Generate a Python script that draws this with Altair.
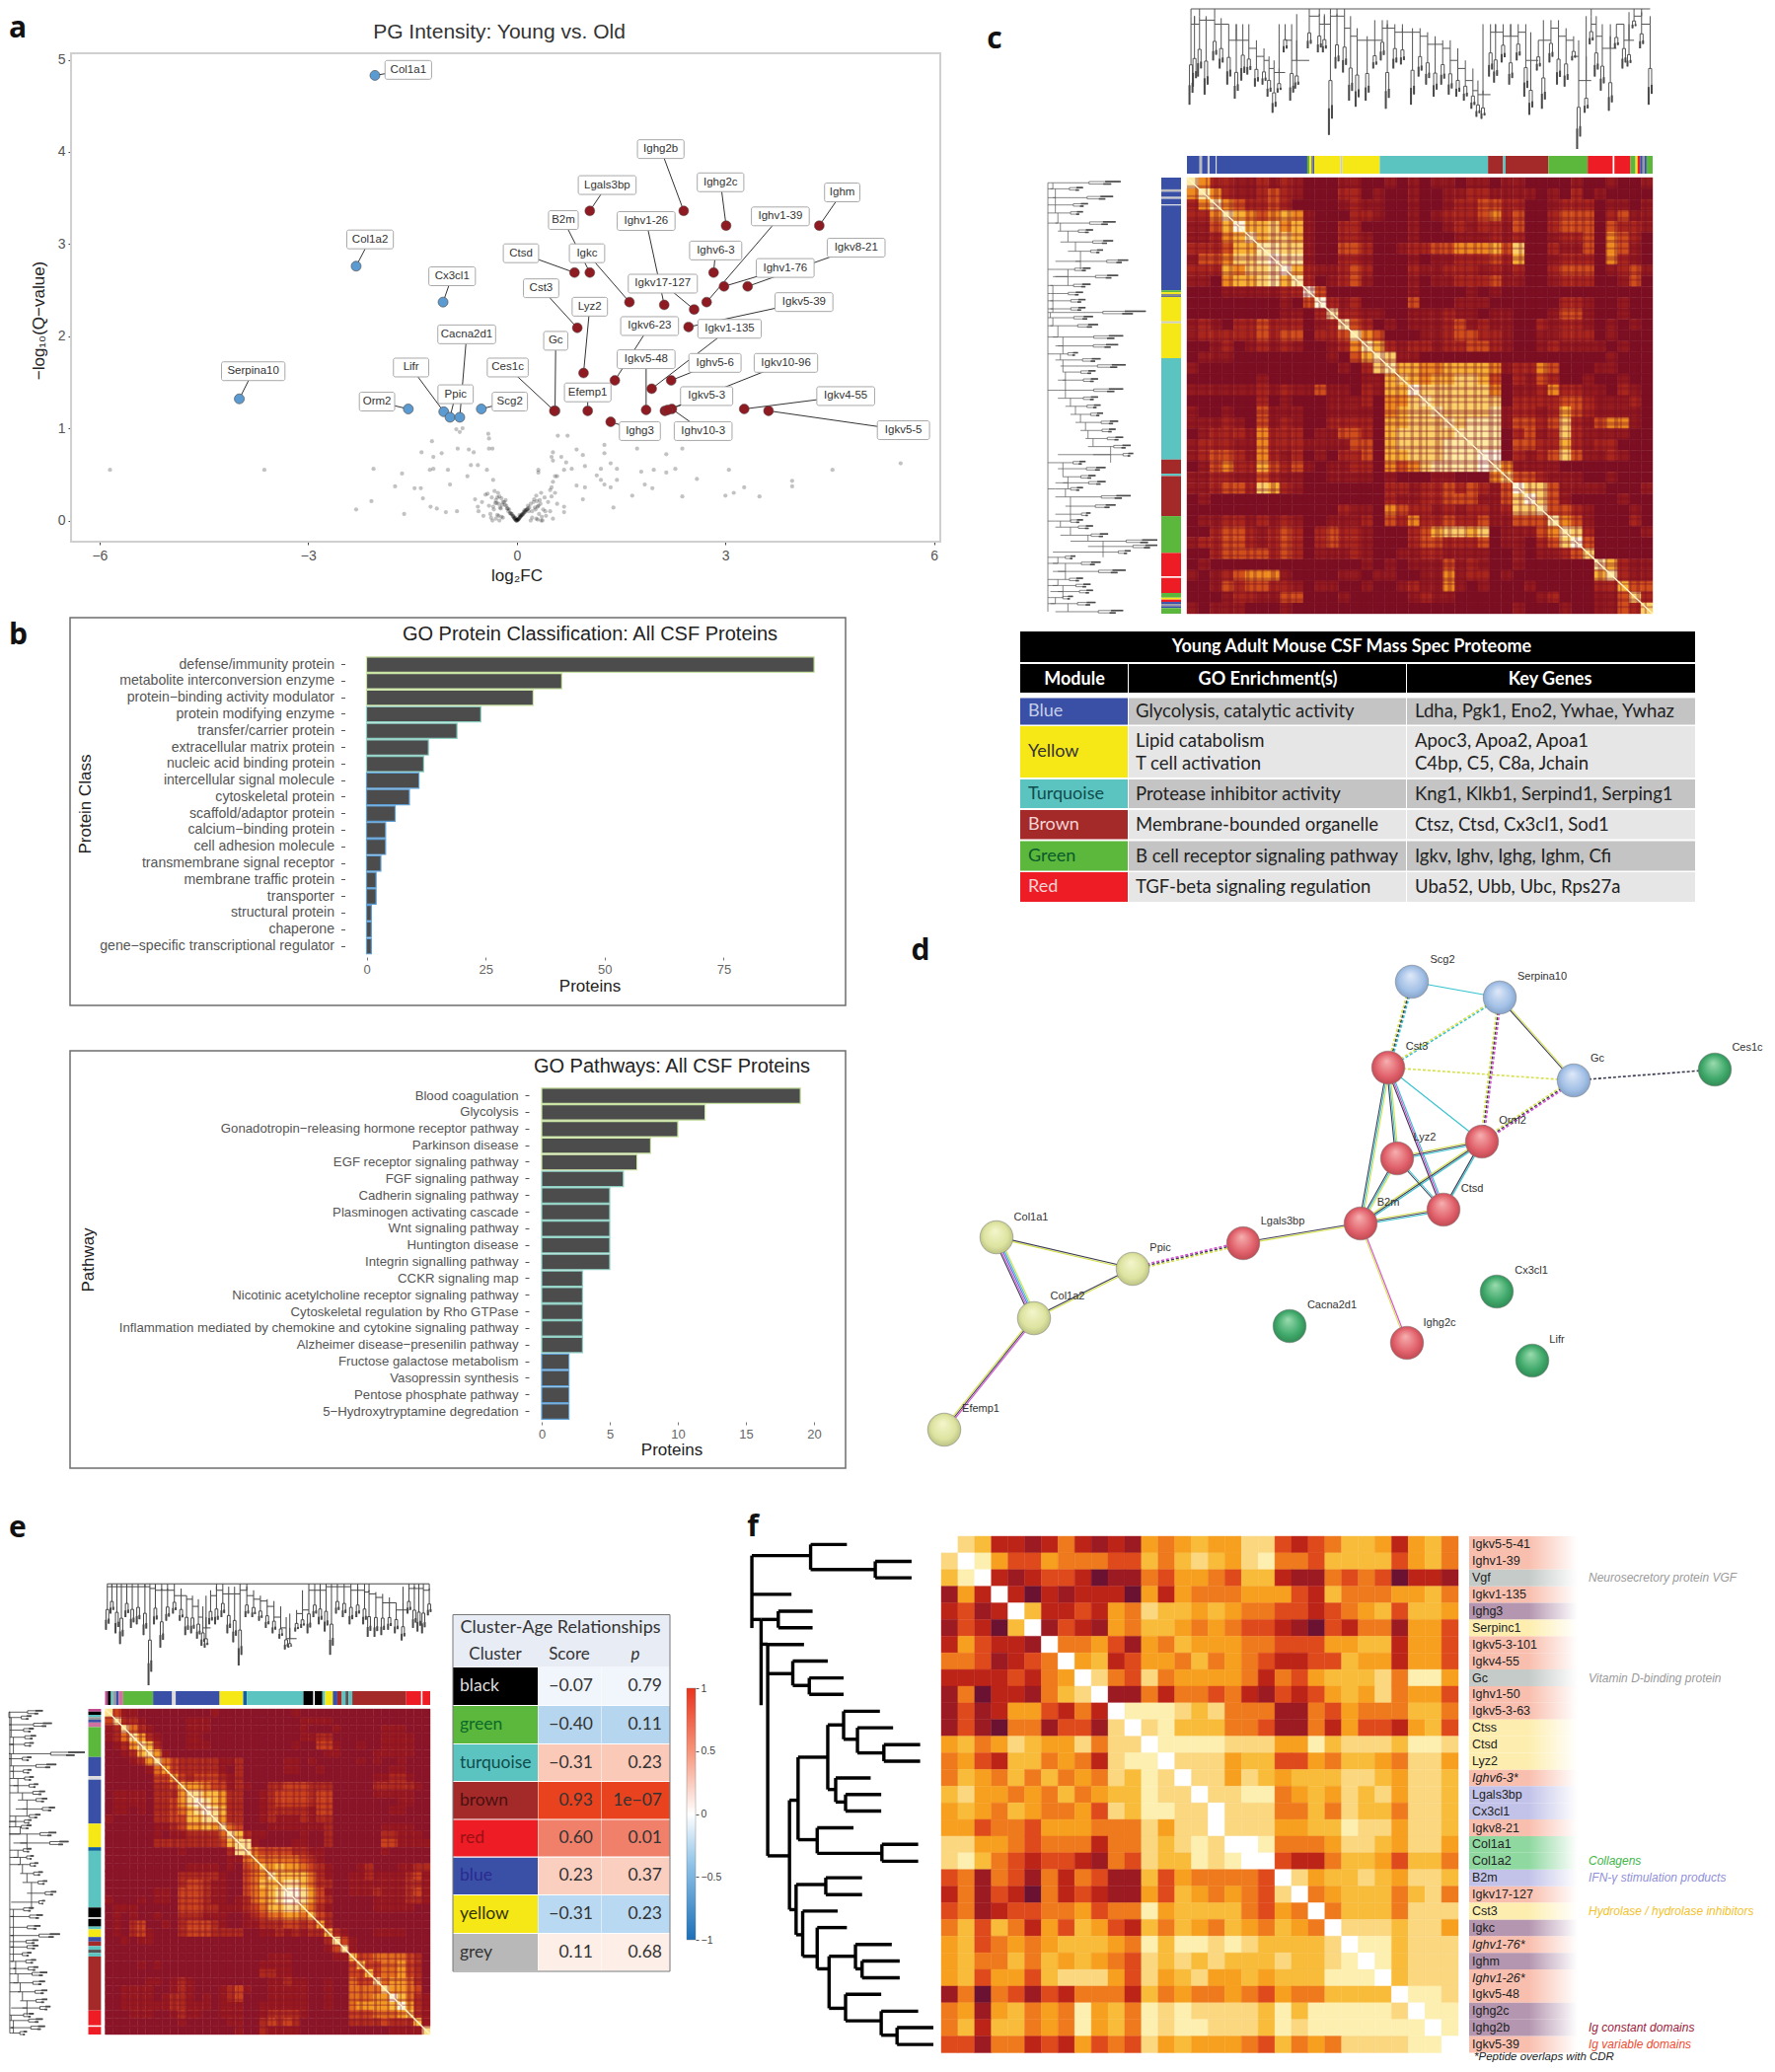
import altair as alt
import pandas as pd

W, H = 1783, 2084
SANS = "Liberation Sans"
NARROW = "Liberation Sans Narrow, Lato"

# ---------- a: volcano ----------
blue_names = ["Col1a1","Col1a2","Cx3cl1","Serpina10","Orm2","Lifr","Ppic","Cacna2d1","Scg2"]
blue_x = [-2.04,-2.31,-1.06,-3.99,-1.56,-1.05,-0.96,-0.82,-0.51]
blue_y = [4.83,2.76,2.37,1.32,1.21,1.18,1.12,1.12,1.21]
blue_lx = [-1.56,-2.11,-0.93,-3.79,-2.01,-1.52,-0.88,-0.72,-0.10]
blue_ly = [4.89,3.05,2.65,1.62,1.29,1.66,1.37,2.02,1.29]
red_names = ["Lgals3bp","Ighg2b","Ighg2c","Ighm","Ctsd","B2m","Ighv6-3","Ighv1-76","Igkv8-21","Ighv1-39","Igkc","Ighv1-26","Igkv17-127","Cst3","Igkv5-39","Igkv1-135","Lyz2","Igkv6-23","Ighv5-6","Igkv5-48","Gc","Ces1c","Efemp1","Ighg3","Igkv5-3","Ighv10-3","Igkv10-96","Igkv4-55","Igkv5-5"]
red_x = [1.05,2.40,3.01,4.35,0.83,1.05,2.83,2.98,3.32,2.73,1.62,2.12,2.55,0.87,2.47,1.94,0.96,1.41,2.22,1.86,0.55,0.54,1.02,1.35,2.13,2.23,2.17,3.27,3.62]
red_y = [3.36,3.36,3.20,3.20,2.69,2.69,2.69,2.54,2.54,2.37,2.37,2.34,2.29,2.09,2.10,1.43,1.60,1.52,1.52,1.20,1.19,1.19,1.19,1.07,1.19,1.21,1.20,1.21,1.19]
red_lx = [1.30,2.07,2.93,4.68,0.06,0.67,2.86,3.86,4.88,3.79,1.01,1.86,2.10,0.35,4.13,3.06,1.05,1.91,2.85,1.86,0.56,-0.13,1.02,1.77,2.73,2.68,3.87,4.73,5.56]
red_ly = [3.64,4.03,3.67,3.56,2.90,3.26,2.93,2.74,2.96,3.30,2.90,3.25,2.57,2.52,2.37,2.08,2.32,2.11,1.71,1.75,1.95,1.66,1.39,0.97,1.35,0.97,1.71,1.35,0.98]
grey_x = [-5.85,-3.63,-2.31,-2.09,-2.06,-1.75,-1.65,-1.62,-1.47,-1.38,-1.37,-1.35,-1.22,-1.2,-1.25,-1.2,-1.24,-1.15,-1.08,-1.02,-0.99,-0.96,-0.87,-0.78,-0.85,-0.82,-0.86,-0.69,-0.62,-0.71,-0.66,-0.56,-0.6,-0.43,-0.41,-0.4,-0.4,-0.35,-0.56,-0.34,
 0.59,0.73,0.52,0.5,0.52,0.64,0.71,0.86,0.95,0.98,0.79,0.68,0.31,0.31,0.55,0.58,0.52,0.5,0.86,0.98,0.95,0.68,0.68,1.15,1.26,1.26,1.21,1.35,1.44,1.44,1.21,1.26,1.35,1.39,1.66,1.73,1.79,1.84,1.97,1.95,2.15,2.15,2.28,2.38,2.38,2.59,3.05,3.0,3.12,3.27,3.49,3.96,3.96,4.54,5.52,
 -0.02,0,0.02,-0.04,0.04,-0.06,0.06,-0.08,0.08,0.1,-0.1,0.12,-0.12,0.14,-0.14,0.16,-0.17,0.18,-0.2,0.05,0.07,-0.03,0.03,-0.05,0.09,-0.22,-0.25,-0.27,-0.23,-0.3,-0.33,-0.36,-0.38,-0.4,-0.45,-0.5,-0.28,-0.2,-0.3,-0.35,-0.25,-0.32,0.2,0.22,0.25,0.28,0.3,0.32,0.33,0.35,0.38,0.4,0.42,0.45,0.48,0.52,0.28,0.2,0.35,0.55,0.48,-0.55,-0.48,0.58,0.5,
 -0.01,0.01,0,-0.03,0.03,0.02,-0.02,-0.05,0.05,0.06,-0.07,0.08,0.04,0.1,0.12,0.11,0.13,0.15,0.16,0.17,-0.09,-0.11,-0.13,-0.15,-0.18,-0.16,-0.24,-0.26,-0.28,-0.21,-0.31,0.24,0.27,0.29,0.31,0.26,0.36,0.34,0.41,-0.34,-0.37,-0.29,-0.42,-0.26,-0.22,0.22,0.3,0.37,-0.01,0.01]
grey_y = [0.55,0.55,0.12,0.21,0.56,0.37,0.51,0.07,0.35,0.35,0.74,0.24,0.86,0.69,0.55,0.56,0.15,0.13,0.73,0.09,0.55,0.39,0.99,1.0,0.78,0.96,0.1,0.77,0.74,0.48,0.6,0.6,0.23,0.55,0.94,0.89,0.78,0.78,0.15,0.44,
 0.92,0.92,0.74,0.69,0.65,0.69,0.63,0.77,0.71,0.59,0.56,0.55,0.55,0.52,0.48,0.48,0.42,0.36,0.38,0.36,0.23,0.15,0.09,0.49,0.82,0.73,0.56,0.62,0.56,0.44,0.44,0.39,0.36,0.14,0.27,0.78,0.53,0.39,0.55,0.35,0.72,0.52,0.56,0.78,0.26,0.45,0.55,0.27,0.3,0.36,0.26,0.43,0.37,0.55,0.62,
 0.01,0,0.01,0.03,0.03,0.05,0.05,0.07,0.07,0.08,0.08,0.1,0.1,0.12,0.13,0.13,0.17,0.14,0.2,0.04,0.06,0.02,0.02,0.04,0.07,0.24,0.26,0.3,0.13,0.22,0.12,0.25,0.07,0.16,0.28,0.2,0.06,0.03,0.02,0,0,0.32,0.18,0.1,0.23,0.27,0.15,0.07,0.22,0.3,0.12,0.25,0.05,0.2,0.1,0.02,0.02,0,0,0.3,0.33,0.1,0.05,0.18,0.26,
 0,0,0.01,0.02,0.02,0.01,0.03,0.05,0.04,0.05,0.07,0.06,0.06,0.09,0.09,0.11,0.11,0.12,0.16,0.1,0.08,0.12,0.13,0.16,0.2,0.22,0.14,0.18,0.25,0.17,0.19,0.2,0.12,0.21,0.16,0.14,0.04,0.18,0.1,0.15,0.03,0.19,0.29,0.05,0.04,0.03,0.01,0,0,0.01]

# ---------- b: bars ----------
class_names = ["defense/immunity protein","metabolite interconversion enzyme","protein\u2212binding activity modulator","protein modifying enzyme","transfer/carrier protein","extracellular matrix protein","nucleic acid binding protein","intercellular signal molecule","cytoskeletal protein","scaffold/adaptor protein","calcium\u2212binding protein","cell adhesion molecule","transmembrane signal receptor","membrane traffic protein","transporter","structural protein","chaperone","gene\u2212specific transcriptional regulator"]
class_vals = [94,41,35,24,19,13,12,11,9,6,4,4,3,2,2,1,1,1]
path_names = ["Blood coagulation","Glycolysis","Gonadotropin\u2212releasing hormone receptor pathway","Parkinson disease","EGF receptor signaling pathway","FGF signaling pathway","Cadherin signaling pathway","Plasminogen activating cascade","Wnt signaling pathway","Huntington disease","Integrin signalling pathway","CCKR signaling map","Nicotinic acetylcholine receptor signaling pathway","Cytoskeletal regulation by Rho GTPase","Inflammation mediated by chemokine and cytokine signaling pathway","Alzheimer disease\u2212presenilin pathway","Fructose galactose metabolism","Vasopressin synthesis","Pentose phosphate pathway","5\u2212Hydroxytryptamine degredation"]
path_vals = [19,12,10,8,7,6,5,5,5,5,5,3,3,3,3,3,2,2,2,2]

# ---------- heatmaps (digit = intensity; upper triangle) ----------
heat_c = [
"8533223232"+"1112211212"+"1221221221"+"1112112112",
"853223432"+"1113312112"+"1122332222"+"1213121111",
"85433431"+"1112322112"+"1123344331"+"1233312212",
"8654565"+"2111332112"+"1233345341"+"1344413422",
"966756"+"2113311112"+"1123233241"+"1344414332",
"86776"+"2113321112"+"1112223231"+"1233415431",
"8877"+"2114431123"+"3445556471"+"1322415421",
"988"+"2113321112"+"1223334361"+"1233315321",
"96"+"3223431113"+"2233323231"+"1344412342",
"8"+"3123421112"+"1223334221"+"1233311241",
"9411111112"+"1111212111"+"1111111111",
"932311114"+"1112221111"+"1133211211",
"83322112"+"2232212211"+"1244211211",
"8431212"+"2234232211"+"3233212121",
"854111"+"2234433211"+"2233312111",
"86323"+"3233443211"+"2322221211",
"8722"+"1111111111"+"1111112111",
"866"+"5566665233"+"5411122111",
"76"+"5667764132"+"4311211211",
"9"+"7777775122"+"3533221321",
"8777777133"+"3344322231",
"877778233"+"2364322221",
"87888244"+"3473245521",
"8888134"+"2373222211",
"888144"+"3363233111",
"99132"+"3474223211",
"8522"+"2211111111",
"744"+"3222112111",
"97"+"7422221112",
"9"+"7421111211",
"8443211121",
"854211131",
"87311112",
"9411111",
"711111",
"86322",
"8322",
"644",
"73",
"7"]
heat_e = [
"8422111111"+"1112111111"+"1112111111"+"1111111111",
"833211111"+"2221111111"+"1111222211"+"1111111111",
"85321111"+"2221111111"+"1111211121"+"1111222111",
"8632111"+"2211111111"+"1111223311"+"1111222211",
"873111"+"2221111111"+"1112114421"+"1211222211",
"86211"+"1111111111"+"1111111221"+"1112222211",
"8543"+"3333223111"+"1122121111"+"1212112111",
"643"+"3333213111"+"1122112111"+"1111122111",
"64"+"3444323111"+"1111111111"+"1112233211",
"7"+"6654423211"+"3344433311"+"1113333321",
"8877633112"+"3444434411"+"1112222211",
"987633112"+"3444434411"+"1111112211",
"98733112"+"3333324411"+"1111122111",
"8633112"+"3222323311"+"1111111111",
"854111"+"2222222311"+"1111222211",
"87322"+"1111211311"+"1111332221",
"8821"+"1112211311"+"1111442222",
"854"+"4443322111"+"1111211111",
"65"+"5555432111"+"1111111111",
"7"+"6766543211"+"1231112233",
"8777753211"+"2232222342",
"788753311"+"2222222332",
"99864211"+"2223222342",
"9864311"+"1112222332",
"753211"+"1112222211",
"74311"+"1111111111",
"6311"+"1111111111",
"732"+"1112222111",
"84"+"2111111111",
"8"+"2111111111",
"7445555431",
"744556431",
"74556431",
"8566531",
"866541",
"97532",
"9632",
"732",
"72",
"8"]
heat_f = [
"9762212421"+"2154565577"+"3234665256"+"4",
"7985335444"+"3364676578"+"4436666356"+"4",
"6892123320"+"1143554366"+"2114343022"+"1",
"1529202122"+"2052544455"+"5326444556"+"4",
"2312962232"+"5476656544"+"3323456366"+"5",
"1320691321"+"5466545433"+"2103244155"+"3",
"2532219445"+"3154655544"+"3335566255"+"3",
"4431234956"+"2355464543"+"2233655255"+"3",
"2222324597"+"4374555542"+"4356667488"+"5",
"1402214679"+"1142443421"+"3235657455"+"3",
"1312553242"+"9888767444"+"1143544466"+"4",
"1310441331"+"7978666443"+"1142533256"+"3",
"5645765574"+"7798888777"+"5586777688"+"7",
"4532664542"+"7889777566"+"3354665477"+"5",
"4654646454"+"7687977576"+"5666776577"+"6",
"6755454645"+"6687797788"+"4565767577"+"6",
"5654654453"+"7688779777"+"4464766477"+"6",
"5534435554"+"4475779777"+"5566877577"+"6",
"7755434442"+"4476787998"+"4445776577"+"5",
"7864323321"+"4376687899"+"3224665366"+"4",
"3414314243"+"1163544443"+"9756676577"+"6",
"2413204232"+"1153654543"+"7945666467"+"4",
"3412334453"+"4485666643"+"5494666477"+"7",
"4636425365"+"3264654654"+"6549777677"+"5",
"5634545666"+"5486887876"+"6667988677"+"7",
"5644646565"+"4376767666"+"7667898677"+"7",
"5635536777"+"5375675565"+"6668889677"+"7",
"1404313244"+"4264544543"+"5446666988"+"7",
"4515645485"+"6487877776"+"8688888798"+"8",
"4626645485"+"6487887776"+"8788888889"+"8",
"3314423253"+"4375655543"+"6454777788"+"9"]
pal_c = {"0":"#6e0c28","1":"#7c0f22","2":"#931a1e","3":"#a9261c","4":"#cf4e1b","5":"#ee8a1e","6":"#f8b234","7":"#fbd068","8":"#feeaa0","9":"#fffbe0"}
pal_e = {"0":"#7a0f28","1":"#8a1428","2":"#98181f","3":"#ae2a1c","4":"#c9421b","5":"#e26e1c","6":"#f29a22","7":"#fabc3c","8":"#fde08a","9":"#fffbe0"}
pal_f = {"0":"#6b1232","1":"#9c1a22","2":"#bd2418","3":"#df4a1c","4":"#ef7a1d","5":"#f7a01f","6":"#f8bc3a","7":"#fbd780","8":"#fdefb0","9":"#ffffff"}
# thin darker gene stripes seen across the two large maps, in cell units, with their widths
stripes_c = [0.7,1.6,2.3,2.9,3.6,4.3,5.1,5.7,6.4,7.2,7.9,8.6,9.3,10.1,10.6,11.3,11.9,12.6,13.2,13.9,14.7,15.2,15.9,16.6,17.3,17.9,18.6,19.2,19.9,20.5,21.3,21.9,22.4,23.2,23.8,24.6,25.2,25.9,26.6,27.2,27.8,28.5,29.3,29.9,30.6,31.2,31.9,32.7,33.3,33.9,34.6,35.3,35.9,36.7,37.2,37.9,38.6,39.3]
stripes_e = [0.9,1.7,2.6,3.3,4.2,5.1,5.8,6.7,7.4,8.3,9.1,9.8,10.7,11.5,12.2,13.1,13.9,14.8,15.6,16.3,17.2,18.1,18.8,19.7,20.4,21.3,22.2,23.1,23.8,24.7,25.6,26.3,27.2,28.1,28.9,29.8,30.6,31.3,32.2,33.1,33.8,34.7,35.6,36.3,37.2,38.1,38.9]
stripe_w = [0.3,0.18,0.42,0.22,0.35,0.15,0.28]

# ---------- module colours ----------
BL,YE,TU,BR,GR,RE,BK = "#3a50a6","#f6e816","#5cc4c0","#a42a2a","#5cb83c","#ee1c25","#000000"
mods_c = [(BL,437,462),("#bbbbbb",462,467),(BL,467,478),("#cccccc",478,482),(BL,482,494),("#dddddd",494,496),(BL,496,676),(GR,676,680),(YE,680,684),("#888888",684,688),(BL,688,690),(YE,690,742),("#cccccc",742,746),(YE,746,820),(TU,820,1035),(BR,1035,1065),(TU,1065,1070),(BR,1070,1155),(GR,1155,1233),(RE,1233,1283),("#ffffff",1283,1286),(RE,1286,1318),(GR,1318,1328),(YE,1328,1332),(RE,1332,1337),(BL,1337,1342),("#999999",1342,1346),(BL,1346,1350),(GR,1350,1362)]
mods_e = [("#c04a90",232,238),(BK,238,245),(TU,245,250),("#999999",250,256),(BL,256,262),("#d070a0",262,272),(GR,272,338),(BL,338,380),("#dddddd",380,388),(BL,388,485),(YE,485,537),("#1060a0",537,545),(TU,545,670),(BK,670,692),("#ffffff",692,695),(BK,695,712),(TU,712,718),(YE,718,735),(BL,735,745),(BR,745,755),(TU,755,763),("#555555",763,770),(TU,770,778),(BR,778,897),(RE,897,930),("#ffffff",930,933),(RE,933,950)]

# ---------- dendrograms: (position, branch start, leaf end) ----------
top_c = [(445,40,260),(452,60,215),(462,40,190),(475,50,235),(492,45,150),(505,60,170),(520,60,210),(535,100,245),(548,60,200),(560,100,185),(575,120,215),(590,140,210),(600,150,240),(610,170,280),(620,180,230),(632,60,130),(645,100,250),(655,150,220),(680,35,120),(700,40,130),(710,60,130),(722,35,335),(735,40,170),(750,40,180),(762,70,250),(775,90,265),(795,100,250),(810,100,170),(825,50,150),(835,70,270),(850,60,170),(865,80,160),(885,70,260),(900,80,190),(915,90,210),(930,110,240),(945,100,210),(960,120,235),(975,150,240),(990,170,250),(1005,200,270),(1015,225,290),(1025,235,295),(1040,60,190),(1050,80,205),(1065,60,155),(1080,90,210),(1095,60,150),(1110,80,240),(1120,150,285),(1135,100,175),(1145,100,270),(1160,50,155),(1175,70,210),(1190,90,215),(1205,100,150),(1215,140,370),(1230,200,280),(1240,40,110),(1250,60,190),(1262,90,225),(1278,120,275),(1290,60,120),(1305,60,170),(1315,100,165),(1325,30,70),(1340,40,120),(1357,60,260)]
left_c = [(455,165,305),(470,170,230),(492,175,290),(510,175,240),(530,175,230),(555,180,295),(575,185,250),(602,200,290),(625,215,270),(650,225,320),(670,175,245),(688,200,300),(710,170,245),(730,165,230),(748,170,235),(768,170,235),(777,165,355),(790,165,250),(810,170,260),(838,180,310),(860,190,300),(880,175,220),(895,185,265),(910,190,315),(925,190,255),(945,195,260),(970,180,310),(990,195,260),(1010,205,265),(1030,215,270),(1050,225,300),(1070,235,295),(1090,240,310),(1110,250,325),(1130,285,330),(1150,180,235),(1165,190,275),(1185,190,255),(1200,200,275),(1215,175,230),(1235,195,325),(1258,205,295),(1278,205,245),(1295,175,230),(1310,185,250),(1330,205,280),(1345,240,378),(1358,270,378),(1372,270,325),(1385,170,215),(1400,180,265),(1420,195,315),(1440,170,230),(1455,180,245),(1470,190,250),(1485,165,210),(1500,175,255),(1520,200,310)]
top_e = [(237,210,335),(247,215,290),(258,215,345),(268,215,375),(280,215,300),(292,215,330),(305,215,320),(320,215,350),(331,210,490),(343,220,320),(357,225,385),(370,225,310),(385,220,290),(400,240,310),(412,240,350),(425,250,345),(438,270,360),(448,300,380),(455,330,385),(465,240,320),(478,225,320),(492,215,300),(505,235,345),(518,235,370),(530,215,435),(545,225,300),(560,240,300),(575,250,310),(590,255,330),(605,270,345),(620,300,360),(632,330,390),(640,360,385),(655,290,340),(668,280,330),(682,225,345),(695,225,300),(707,225,320),(720,215,340),(732,215,405),(745,215,290),(760,215,300),(775,215,320),(790,225,300),(805,225,320),(815,230,355),(830,235,355),(845,245,350),(860,260,335),(875,260,345),(890,280,365),(903,215,290),(915,220,330),(925,220,340),(935,220,345),(948,225,295)]
left_e = [(565,20,95),(580,20,70),(600,25,115),(615,25,75),(635,25,80),(655,30,75),(681,20,188),(695,25,70),(715,25,125),(730,30,70),(750,30,75),(770,40,85),(790,40,100),(810,50,105),(835,60,122),(855,35,90),(870,35,70),(885,20,70),(905,45,125),(930,60,152),(950,30,70),(970,40,75),(990,45,85),(1015,50,95),(1040,60,105),(1070,70,125),(1095,70,100),(1115,25,75),(1135,30,95),(1165,25,90),(1188,30,133),(1205,25,85),(1220,30,85),(1240,25,70),(1260,30,80),(1280,35,85),(1295,30,105),(1320,40,100),(1345,45,105),(1370,50,105),(1390,60,112),(1410,25,75),(1425,25,95),(1445,30,100),(1460,25,60)]

# f tree: horizontal (x1,x2,y) and vertical (x,y1,y2) branches
f_h = [(18,107,128),(107,162,97),(107,205,167),(205,260,144),(205,260,190),(18,78,236),(18,32,306),(32,58,306),(58,110,283),(58,110,329),(32,42,375),(42,97,376),(42,80,457),(80,133,422),(80,105,490),(105,157,469),(105,157,515),(42,75,965),(75,88,810),(88,133,690),(133,157,600),(157,212,562),(157,178,640),(178,232,608),(178,218,678),(218,273,655),(218,273,701),(133,145,780),(145,198,748),(145,160,815),(160,214,794),(160,214,840),(88,117,920),(117,172,887),(117,215,958),(215,270,933),(215,270,980),(75,85,1115),(85,130,1045),(130,185,1026),(130,185,1073),(85,95,1185),(95,148,1119),(95,117,1245),(117,162,1165),(117,135,1280),(135,175,1245),(175,230,1212),(175,185,1280),(185,242,1258),(185,242,1305),(135,160,1390),(160,214,1351),(160,214,1425),(214,270,1398),(214,238,1465),(238,293,1444),(238,293,1491)]
f_v = [(18,128,330),(107,97,167),(205,144,190),(32,306,545),(58,283,329),(42,375,965),(80,422,490),(105,469,515),(75,810,1115),(88,690,920),(133,600,780),(157,562,640),(178,608,678),(218,655,701),(145,748,815),(160,794,840),(117,887,958),(215,933,980),(85,1045,1185),(130,1026,1073),(95,1119,1245),(117,1165,1280),(135,1245,1390),(175,1212,1280),(185,1258,1305),(160,1351,1425),(214,1398,1465),(238,1444,1491)]

f_labels = ["Igkv5-5-41","Ighv1-39","Vgf","Igkv1-135","Ighg3","Serpinc1","Igkv5-3-101","Igkv4-55","Gc","Ighv1-50","Igkv5-3-63","Ctss","Ctsd","Lyz2","Ighv6-3*","Lgals3bp","Cx3cl1","Igkv8-21","Col1a1","Col1a2","B2m","Igkv17-127","Cst3","Igkc","Ighv1-76*","Ighm","Ighv1-26*","Igkv5-48","Ighg2c","Ighg2b","Igkv5-39"]
f_groups = {"#f9bfae":[0,1,3,6,7,9,10,14,17,21,24,26,27,30],"#c5cbc8":[2,8],"#b596b0":[4,23,25,28,29],"#fdeeb0":[5,11,12,13,22],"#c3c3ea":[15,16,20],"#8fd8a0":[18,19]}
f_notes = [(2,"Neurosecretory protein VGF","#9a9a9a"),(8,"Vitamin D-binding protein","#9a9a9a"),(19,"Collagens","#3fb54a"),(20,"IFN-\u03b3 stimulation products","#8f8fd8"),(22,"Hydrolase / hydrolase inhibitors","#f2c22e"),(29,"Ig constant domains","#9c1a3a"),(30,"Ig variable domains","#ef4a30")]

# ---------- d: network ----------
nodes = {"Scg2":(1431,995,"b",1462,973),"Serpina10":(1520,1011,"b",1563,990),"Cst3":(1407,1082,"r",1436,1061),"Gc":(1595,1095,"b",1619,1073),"Ces1c":(1738,1084,"g",1771,1062),"Orm2":(1502,1157,"r",1533,1136),"Lyz2":(1416,1174,"r",1444,1153),"Ctsd":(1463,1226,"r",1492,1205),"B2m":(1379,1240,"r",1407,1219),"Lgals3bp":(1260,1260,"r",1300,1238),"Ppic":(1148,1286,"o",1176,1265),"Col1a1":(1010,1254,"o",1045,1234),"Col1a2":(1048,1336,"o",1082,1314),"Efemp1":(957,1449,"o",994,1428),"Cacna2d1":(1307,1344,"g",1350,1323),"Ighg2c":(1426,1361,"r",1459,1341),"Cx3cl1":(1517,1309,"g",1552,1288),"Lifr":(1553,1379,"g",1578,1358)}
Y_,D_,T_,M_,B_ = "#d6e04a","#3b3b52","#35c2cf","#d24fd0","#5a6fe0"
edges_solid = [("Scg2","Serpina10",[T_]),("Serpina10","Gc",[Y_,D_]),("Cst3","B2m",[Y_,T_,D_]),("Cst3","Lyz2",[Y_,T_,D_]),("Cst3","Ctsd",[T_,M_,D_]),("Cst3","Orm2",[T_]),("Lyz2","Orm2",[Y_,D_,T_]),("Lyz2","B2m",[Y_,T_,D_]),("Lyz2","Ctsd",[T_,D_]),("B2m","Orm2",[Y_,D_,T_]),("B2m","Ctsd",[Y_,D_,T_]),("Orm2","Ctsd",[T_,D_]),("Lgals3bp","B2m",[D_,Y_]),("B2m","Ighg2c",[M_,Y_]),("Col1a1","Ppic",[D_,Y_]),("Col1a1","Col1a2",[Y_,T_,B_,M_,D_]),("Col1a2","Ppic",[D_,Y_]),("Col1a2","Efemp1",[M_,D_,Y_])]
edges_dash = [("Scg2","Cst3",[T_,D_,Y_]),("Serpina10","Cst3",[T_,Y_]),("Serpina10","Orm2",[M_,D_,Y_]),("Cst3","Gc",[Y_]),("Gc","Orm2",[M_,D_,Y_]),("Gc","Ces1c",[D_]),("Ppic","Lgals3bp",[M_,D_,Y_])]
node_cols = {"r":("#f6b0b0","#e0606a","#b8444c"),"b":("#dfe9f8","#a3c0e6","#7f9cc4"),"g":("#9adcae","#3fa86a","#2e8450"),"o":("#f4f6cc","#dde3a0","#b4ba7c")}

# ---------- tables ----------
c_cols = [1034,1144,1426,1718]
c_rows = [("Blue",BL,"#c6cfe8","#c4c4c4",707.5,734.5,["Glycolysis, catalytic activity"],["Ldha, Pgk1, Eno2, Ywhae, Ywhaz"]),
          ("Yellow",YE,"#333333","#e6e6e6",736,788,["Lipid catabolism","T cell activation"],["Apoc3, Apoa2, Apoa1","C4bp, C5, C8a, Jchain"]),
          ("Turquoise",TU,"#0e4d4d","#c4c4c4",790,819,["Protease inhibitor activity"],["Kng1, Klkb1, Serpind1, Serping1"]),
          ("Brown",BR,"#f4d4d4","#e6e6e6",821,850.5,["Membrane-bounded organelle"],["Ctsz, Ctsd, Cx3cl1, Sod1"]),
          ("Green",GR,"#0b5a2a","#c4c4c4",852.5,882.5,["B cell receptor signaling pathway"],["Igkv, Ighv, Ighg, Ighm, Cfi"]),
          ("Red",RE,"#f8d4d4","#e6e6e6",884,914,["TGF-beta signaling regulation"],["Uba52, Ubb, Ubc, Rps27a"])]
e_rows = [("black",BK,"#dddddd","#f0f6fc","\u22120.07","0.79",1690,1728),("green",GR,"#0b6a2a","#b5d6ee","\u22120.40","0.11",1729,1767),("turquoise",TU,"#0e4d4d","#fbc9b8","\u22120.31","0.23",1768,1805),("brown",BR,"#4a1010","#e8421e","0.93","1e\u221207",1806,1843.5),("red",RE,"#9a1015","#f0806a","0.60","0.01",1844.5,1881.6),("blue",BL,"#2a2a90","#fbcfc0","0.23","0.37",1882.7,1920),("yellow",YE,"#333300","#b9d9f2","\u22120.31","0.23",1921,1959),("grey","#b8b8b8","#333333","#fdeee8","0.11","0.68",1960,1997)]

# ---------- helpers ----------
L = []
def sc(a, b, d0, d1):
    return alt.Scale(domain=[d0, d1], range=[a-8, b-8], nice=False, zero=False)
def XQ(f, a, b, d0, d1, axis=None):
    return alt.X(f"{f}:Q", scale=sc(a, b, d0, d1), axis=axis)
def YQ(f, a, b, d0, d1, axis=None):
    return alt.Y(f"{f}:Q", scale=sc(a, b, d0, d1), axis=axis)
PX = lambda f: XQ(f, 0, 1799, 0, 1799)
PY = lambda f: YQ(f, 0, 2100, 0, 2100)

def text(items, size, color="#222222", font=SANS, align="center", **kw):
    df = pd.DataFrame(items, columns=["x", "y", "t"])
    L.append(alt.Chart(df).mark_text(fontSize=size, color=color, font=font, align=align, baseline="middle", **kw).encode(x=PX("x"), y=PY("y"), text="t:N"))

def rects(items, **kw):
    df = pd.DataFrame(items, columns=["x", "x2", "y", "y2", "c"])
    L.append(alt.Chart(df).mark_rect(strokeWidth=0, **kw).encode(x=PX("x"), x2=alt.X2("x2"), y=PY("y"), y2=alt.Y2("y2"), fill=alt.Fill("c:N", scale=None)))

def frame(x0, x1, y0, y1, col, w):
    df = pd.DataFrame({"x": [x0], "x2": [x1], "y": [y0], "y2": [y1]})
    L.append(alt.Chart(df).mark_rect(fill="transparent", stroke=col, strokeWidth=w).encode(x=PX("x"), x2=alt.X2("x2"), y=PY("y"), y2=alt.Y2("y2")))

def segs(items, xr, xd, yr, yd, col, w, dash=None):
    df = pd.DataFrame(items, columns=["xa", "ya", "xb", "yb"])
    kw = {"strokeDash": dash} if dash else {}
    L.append(alt.Chart(df).mark_rule(color=col, strokeWidth=w, **kw).encode(
        x=XQ("xa", xr[0], xr[1], xd[0], xd[1]), y=YQ("ya", yr[0], yr[1], yd[0], yd[1]), x2=alt.X2("xb"), y2=alt.Y2("yb")))

def dend(stems, pos_r, pos_d, val_r, val_d, top, col, vertical, w=1.0, thick=2.0, fork=3.0):
    thin, fat = [], []
    for i, (p, s, e) in enumerate(stems):
        m = s+0.55*(e-s)
        thin.append((p, s, p, m))
        thin.append((p-fork, m, p+fork, m))
        thin.append((p-fork, m, p-fork, e))
        thin.append((p+fork, m, p+fork, m+0.7*(e-m)))
        fat.append((p-fork, e-0.22*(e-s), p-fork, e))
        fat.append((p+fork, m+0.45*(e-m), p+fork, m+0.7*(e-m)))
        if i+1 < len(stems):
            q, s2, _ = stems[i+1]
            lv = max(s, s2)
            thin.append((p, lv, q, lv))
            if s2 > s: thin.append((q, s, q, s2))
            else: thin.append((p, s2, p, s))
        if s-top < 25: thin.append((p, top, p, s))
    thin.append((stems[0][0], top, stems[-1][0], top))
    if vertical:
        segs(thin, pos_r, pos_d, val_r, val_d, col, w)
        segs(fat, pos_r, pos_d, val_r, val_d, "#4a4a4a", thick)
    else:
        flip = lambda rows: [(b, a, d, c) for a, b, c, d in rows]
        segs(flip(thin), val_r, val_d, pos_r, pos_d, col, w)
        segs(flip(fat), val_r, val_d, pos_r, pos_d, "#4a4a4a", thick)

def modbar(mods, dom, rng, a, b, horizontal):
    df = pd.DataFrame(mods, columns=["c", "s", "e"])
    base = alt.Chart(df).mark_rect(strokeWidth=0)
    if horizontal:
        L.append(base.encode(x=XQ("s", rng[0], rng[1], dom[0], dom[1]), x2=alt.X2("e"), y=alt.value(a-8), y2=alt.value(b-8), fill=alt.Fill("c:N", scale=None)))
    else:
        L.append(base.encode(y=YQ("s", rng[0], rng[1], dom[0], dom[1]), y2=alt.Y2("e"), x=alt.value(a-8), x2=alt.value(b-8), fill=alt.Fill("c:N", scale=None)))

def heat(rows, pal, xr, yr, full=False, diag=True, stripes=None, sfill="#7c0f22", sop=0.4):
    n = len(rows)
    recs = []
    for i, r in enumerate(rows):
        if full:
            for j, ch in enumerate(r):
                recs.append((j, j+1, i, i+1, pal[ch]))
        else:
            for k, ch in enumerate(r):
                j = i+k
                if j >= n: break
                recs.append((j, j+1, i, i+1, pal[ch]))
                if j != i: recs.append((i, i+1, j, j+1, pal[ch]))
    df = pd.DataFrame(recs, columns=["a", "a2", "b", "b2", "c"])
    L.append(alt.Chart(df).mark_rect(strokeWidth=0.4).encode(
        x=XQ("a", xr[0], xr[1], 0, n), x2=alt.X2("a2"), y=YQ("b", yr[0], yr[1], 0, n), y2=alt.Y2("b2"),
        fill=alt.Fill("c:N", scale=None), stroke=alt.Stroke("c:N", scale=None)))
    if stripes:
        sd = pd.DataFrame({"s": stripes, "e": [v+stripe_w[i % len(stripe_w)] for i, v in enumerate(stripes)], "lo": [0]*len(stripes), "hi": [n]*len(stripes)})
        L.append(alt.Chart(sd).mark_rect(fill=sfill, strokeWidth=0, opacity=sop).encode(
            x=XQ("s", xr[0], xr[1], 0, n), x2=alt.X2("e"), y=YQ("lo", yr[0], yr[1], 0, n), y2=alt.Y2("hi")))
        L.append(alt.Chart(sd).mark_rect(fill=sfill, strokeWidth=0, opacity=sop).encode(
            y=YQ("s", yr[0], yr[1], 0, n), y2=alt.Y2("e"), x=XQ("lo", xr[0], xr[1], 0, n), x2=alt.X2("hi")))
    if diag:
        segs([(0, 0, n, n)], xr, (0, n), yr, (0, n), "#fff4c8", 1.4)

# ---------- panel a ----------
A_X, A_Y = (72, 953), (549, 54)
AXD, AYD = (-6.41, 6.09), (-0.23, 5.07)
names = blue_names + red_names
px_ = blue_x + red_x; py_ = blue_y + red_y; lx_ = blue_lx + red_lx; ly_ = blue_ly + red_ly
frame(72, 953, 54, 549, "#cfcfcf", 2)
segs(list(zip(lx_, ly_, px_, py_)), A_X, AXD, A_Y, AYD, "#333333", 1)
ax_x = alt.Axis(title=None, orient="bottom", values=[-6,-3,0,3,6], grid=False, domain=False, tickSize=3, tickColor="#444444", labelColor="#555555", labelFontSize=14, labelFont=SANS, offset=-(H-(549-8)), labelPadding=4)
ax_y = alt.Axis(title=None, orient="left", values=[0,1,2,3,4,5], grid=False, domain=False, tickSize=3, tickColor="#444444", labelColor="#555555", labelFontSize=14, labelFont=SANS, offset=-(72-8), labelPadding=3)
L.append(alt.Chart(pd.DataFrame({"x": grey_x, "y": grey_y})).mark_circle(size=18, color="#000000", opacity=0.24).encode(
    x=XQ("x", *A_X, *AXD, axis=ax_x), y=YQ("y", *A_Y, *AYD, axis=ax_y)))
L.append(alt.Chart(pd.DataFrame({"x": blue_x, "y": blue_y})).mark_circle(size=100, color="#5b9bd2", opacity=1, stroke="#555555", strokeWidth=0.7).encode(
    x=XQ("x", *A_X, *AXD), y=YQ("y", *A_Y, *AYD)))
L.append(alt.Chart(pd.DataFrame({"x": red_x, "y": red_y})).mark_circle(size=100, color="#8e1a22", opacity=1, stroke="#555555", strokeWidth=0.5).encode(
    x=XQ("x", *A_X, *AXD), y=YQ("y", *A_Y, *AYD)))
box = pd.DataFrame({"t": names, "x": lx_, "y": ly_})
box["hw"] = box["t"].str.len()*5.7/2/70.5 + 6.5/70.5
box["xa"] = box["x"]-box["hw"]; box["xb"] = box["x"]+box["hw"]
box["ya"] = box["y"]-9.5/93.5; box["yb"] = box["y"]+9.5/93.5
L.append(alt.Chart(box).mark_rect(fill="#ffffff", stroke="#a8a8a8", strokeWidth=1, cornerRadius=2).encode(
    x=XQ("xa", *A_X, *AXD), x2=alt.X2("xb"), y=YQ("ya", *A_Y, *AYD), y2=alt.Y2("yb")))
L.append(alt.Chart(box).mark_text(fontSize=11.5, font=SANS, color="#333333").encode(
    x=XQ("x", *A_X, *AXD), y=YQ("y", *A_Y, *AYD), text="t:N"))
text([(506, 33, "PG Intensity: Young vs. Old")], 21, color="#333333")
text([(524, 584, "log\u2082FC")], 17, color="#222222")
text([(40, 325, "\u2212log\u2081\u2080(Q\u2212value)")], 17, color="#222222", angle=270)

# ---------- panel b ----------
def barpanel(cats, vals, x0, px_unit, top, bot, box_y, axis_y, ticks, title, title_xy, ytitle, ytitle_xy, xt_y, gap, lab):
    frame(71, 857, box_y[0], box_y[1], "#6e6e6e", 1.5)
    d0 = (71-x0)/px_unit; d1 = (857-x0)/px_unit
    hi = max(vals)
    strokes = ["#c9e4a4" if v >= 0.35*hi else ("#8ed2c6" if v >= 0.12*hi else "#5c9fd6") for v in vals]
    df = pd.DataFrame({"cat": cats, "v": vals, "z": [0]*len(vals), "s": strokes})
    ax_bx = alt.Axis(title=None, orient="bottom", values=ticks, grid=False, domain=False, tickSize=3, tickColor="#777777", labelColor="#666666", labelFontSize=13, labelFont=SANS, offset=-(H-(axis_y-8)), labelPadding=3)
    ax_by = alt.Axis(title=None, orient="left", grid=False, domain=False, tickSize=4, tickColor="#555555", labelColor="#555555", labelFontSize=lab, labelFont=SANS, labelLimit=500, offset=-(x0-gap-8), labelPadding=7)
    L.append(alt.Chart(df).mark_bar(strokeWidth=1.2, fill="#4c4c4c", orient="horizontal").encode(
        x=alt.X("v:Q", scale=sc(71, 857, d0, d1), axis=ax_bx),
        x2=alt.X2("z"),
        y=alt.Y("cat:N", sort=cats, scale=alt.Scale(domain=cats, range=[top-8, bot-8], paddingInner=0.08, paddingOuter=0.04), axis=ax_by),
        stroke=alt.Stroke("s:N", scale=None)))
    text([(title_xy[0], title_xy[1], title)], 20, color="#222222")
    text([(title_xy[0], xt_y, "Proteins")], 17, color="#222222")
    text([(ytitle_xy[0], ytitle_xy[1], ytitle)], 17, color="#222222", angle=270)

barpanel(class_names, class_vals, 371.5, 4.826, 665.2, 967.4, (626, 1019), 970, [0,25,50,75],
         "GO Protein Classification: All CSF Proteins", (598, 643), "Protein Class", (87, 815), 1000, 22, 14.1)
barpanel(path_names, path_vals, 549, 13.8, 1102.2, 1439, (1065, 1488), 1441, [0,5,10,15,20],
         "GO Pathways: All CSF Proteins", (681, 1081), "Pathway", (90, 1277), 1470, 13, 13.2)

# ---------- panel c ----------
C_X, C_Y = (1203, 1675), (180, 622)
heat(heat_c, pal_c, C_X, C_Y, stripes=stripes_c, sfill="#7c0f22", sop=0.35)
modbar(mods_c, (437, 1362), C_X, 158, 176, True)
modbar(mods_c, (437, 1362), C_Y, 1177, 1197, False)
dend(top_c, (1203, 1675), (437, 1362), (9, 151), (22, 370), 22, "#555555", True)
dend(left_c, (182, 622), (447, 1525), (1061, 1174), (158, 380), 160, "#555555", False, w=0.7, thick=1.6, fork=3.0)

# table c
rects([(1034, 1718, 640, 671, "#000000"), (1034, 1143, 673, 702, "#000000"), (1144, 1425, 673, 702, "#000000"), (1426, 1718, 673, 702, "#000000")])
cells = []
for nm, fc, tc, bg, y0, y1, g, k in c_rows:
    cells += [(c_cols[0], c_cols[1]-1, y0, y1, fc), (c_cols[1], c_cols[2]-1, y0, y1, bg), (c_cols[2], c_cols[3], y0, y1, bg)]
rects(cells)
text([(1370, 656, "Young Adult Mouse CSF Mass Spec Proteome")], 18, color="#ffffff", font=NARROW, fontWeight="bold")
text([(1089, 689, "Module"), (1285, 689, "GO Enrichment(s)"), (1571, 689, "Key Genes")], 18, color="#ffffff", font=NARROW, fontWeight="bold")
for nm, fc, tc, bg, y0, y1, g, k in c_rows:
    ym = (y0+y1)/2
    text([(1042, ym, nm)], 18, color=tc, font=NARROW, align="left")
    n = len(g)
    its = []
    for i in range(n):
        yy = ym + (i-(n-1)/2)*23
        its += [(1151, yy, g[i]), (1434, yy, k[i])]
    text(its, 18.5, color="#222222", font=NARROW, align="left")

# ---------- panel d ----------
NX, NY = (920, 1790), (940, 1500)
def edge_rows(elist):
    rows = {}
    for a, b, cols in elist:
        ax, ay = nodes[a][:2]; bx, by = nodes[b][:2]
        dx, dy = bx-ax, by-ay
        ln = (dx*dx+dy*dy)**0.5
        nx_, ny_ = -dy/ln, dx/ln
        for i, c in enumerate(cols):
            o = (i-(len(cols)-1)/2)*1.5
            rows.setdefault(c, []).append((ax+nx_*o, ay+ny_*o, bx+nx_*o, by+ny_*o))
    return rows
for c, r in edge_rows(edges_solid).items():
    segs(r, NX, NX, NY, NY, c, 1.1)
for c, r in edge_rows(edges_dash).items():
    segs(r, NX, NX, NY, NY, c, 1.6, dash=[3, 2])
for g, (hl, mid, edge) in node_cols.items():
    sub = [(v[0], v[1]) for v in nodes.values() if v[2] == g]
    grad = {"gradient": "radial", "x1": 0.45, "y1": 0.3, "r1": 0, "x2": 0.5, "y2": 0.5, "r2": 0.56,
            "stops": [{"offset": 0, "color": hl}, {"offset": 0.65, "color": mid}, {"offset": 1, "color": edge}]}
    L.append(alt.Chart(pd.DataFrame(sub, columns=["x", "y"])).mark_circle(size=1130, fill=grad, opacity=1, stroke="#777777", strokeWidth=0.5).encode(
        x=XQ("x", NX[0], NX[1], NX[0], NX[1]), y=YQ("y", NY[0], NY[1], NY[0], NY[1])))
text([(v[3], v[4], k) for k, v in nodes.items()], 11, color="#333333")

# ---------- panel e ----------
E_X, E_Y = (106.5, 436), (1732, 2062)
heat(heat_e, pal_e, E_X, E_Y, stripes=stripes_e, sfill="#8a1428", sop=0.4)
modbar(mods_e, (232, 950), E_X, 1714, 1728, True)
modbar(mods_e, (232, 950), E_Y, 89.5, 102.4, False)
dend(top_e, (106.5, 436), (232, 950), (1604.5, 1708), (205, 490), 207, "#444444", True, fork=3.0)
dend(left_e, (1732, 2062), (556, 1464), (9, 86), (20, 188), 22, "#333333", False, w=0.8, thick=1.8, fork=4.0)
rects([(459, 679, 1636.5, 1689.5, "#e8ecf5")])
cells = []
for nm, fc, tc, bg, s, p, y0, y1 in e_rows:
    cells += [(459, 545, y0, y1, fc), (545.5, 609, y0, y1, bg), (609.5, 679, y0, y1, bg)]
rects(cells)
frame(459, 679, 1636.5, 1998, "#777777", 1)
text([(568, 1650, "Cluster-Age Relationships")], 18, color="#333333", font=NARROW)
text([(502, 1677, "Cluster"), (577, 1677, "Score")], 17, color="#333333", font=NARROW)
text([(644, 1677, "p")], 17, color="#333333", font=NARROW, fontStyle="italic")
for nm, fc, tc, bg, s, p, y0, y1 in e_rows:
    ym = (y0+y1)/2
    text([(466, ym, nm)], 17.5, color=tc, font=NARROW, align="left")
    text([(601, ym, s), (671, ym, p)], 17.5, color="#333333", font=NARROW, align="right")
grad_bar = {"gradient": "linear", "x1": 0, "y1": 1, "x2": 0, "y2": 0,
            "stops": [{"offset": 0, "color": "#1b6fb8"}, {"offset": 0.3, "color": "#8fc3e8"}, {"offset": 0.5, "color": "#ffffff"}, {"offset": 0.75, "color": "#f7957a"}, {"offset": 1, "color": "#e8331c"}]}
ax_cb = alt.Axis(title=None, values=[-1,-0.5,0,0.5,1], format="~g", grid=False, domain=False, tickSize=3, tickColor="#555555", labelColor="#444444", labelFontSize=10.5, labelFont=SANS, orient="right", offset=-(W-(705-8)), labelPadding=2)
L.append(alt.Chart(pd.DataFrame({"a": [-1], "b": [1]})).mark_rect(fill=grad_bar, stroke="#777777", strokeWidth=0.4).encode(
    y=YQ("a", 1966, 1711, -1, 1, axis=ax_cb), y2=alt.Y2("b"), x=alt.value(696-8), x2=alt.value(705-8)))

# ---------- panel f ----------
F_X, F_Y = (954, 1478), (1557, 2080.5)
FT_X, FT_Y = (750, 954), (1557, 2080.5)
tree = [(a, y, b, y) for a, b, y in f_h] + [(x, a, x, b) for x, a, b in f_v]
segs(tree, FT_X, (0, 305), FT_Y, (74, 1514), "#000000", 3.4)
heat(heat_f, pal_f, F_X, F_Y, full=True, diag=False)
for colr, idx in f_groups.items():
    df = pd.DataFrame({"r": idx, "r2": [i+1 for i in idx], "a": [0]*len(idx), "b": [1]*len(idx)})
    grad = {"gradient": "linear", "x1": 0, "y1": 0, "x2": 1, "y2": 0,
            "stops": [{"offset": 0, "color": colr}, {"offset": 0.55, "color": colr}, {"offset": 1, "color": "#ffffff"}]}
    L.append(alt.Chart(df).mark_rect(fill=grad, strokeWidth=0).encode(
        x=XQ("a", 1489, 1599, 0, 1), x2=alt.X2("b"), y=YQ("r", *F_Y, 0, 31), y2=alt.Y2("r2")))
plain = pd.DataFrame([(i+0.5, t) for i, t in enumerate(f_labels) if "*" not in t], columns=["r", "t"])
ital = pd.DataFrame([(i+0.5, t) for i, t in enumerate(f_labels) if "*" in t], columns=["r", "t"])
for df, st in ((plain, "normal"), (ital, "italic")):
    L.append(alt.Chart(df.assign(a=0)).mark_text(fontSize=12.5, font=SANS, color="#222222", align="left", fontStyle=st).encode(
        x=XQ("a", 1492, 1600, 0, 1), y=YQ("r", *F_Y, 0, 31), text="t:N"))
for r, t, c in f_notes:
    L.append(alt.Chart(pd.DataFrame({"a": [0], "r": [r+0.5], "t": [t]})).mark_text(fontSize=12, font=SANS, color=c, align="left", fontStyle="italic").encode(
        x=XQ("a", 1610, 1790, 0, 1), y=YQ("r", *F_Y, 0, 31), text="t:N"))
text([(1494, 2085, "*Peptide overlaps with CDR")], 11.5, color="#222222", align="left", fontStyle="italic")

# ---------- panel letters ----------
text([(9, 29, "a"), (9, 644, "b"), (9, 1549, "e")], 30, color="#111111", font="Open Sans", fontWeight="bold", align="left")
text([(1008, 40, "c"), (933, 964, "d"), (763, 1548, "f")], 30, color="#111111", font="Open Sans", fontWeight="bold", align="center")

chart = alt.layer(*L).resolve_scale(x="independent", y="independent").resolve_axis(x="independent", y="independent").properties(
    width=W, height=H, padding=0, autosize=alt.AutoSizeParams(type="none")
).configure_view(stroke=None)
chart.save("out.html", embed_options={"renderer": "svg", "actions": False})
